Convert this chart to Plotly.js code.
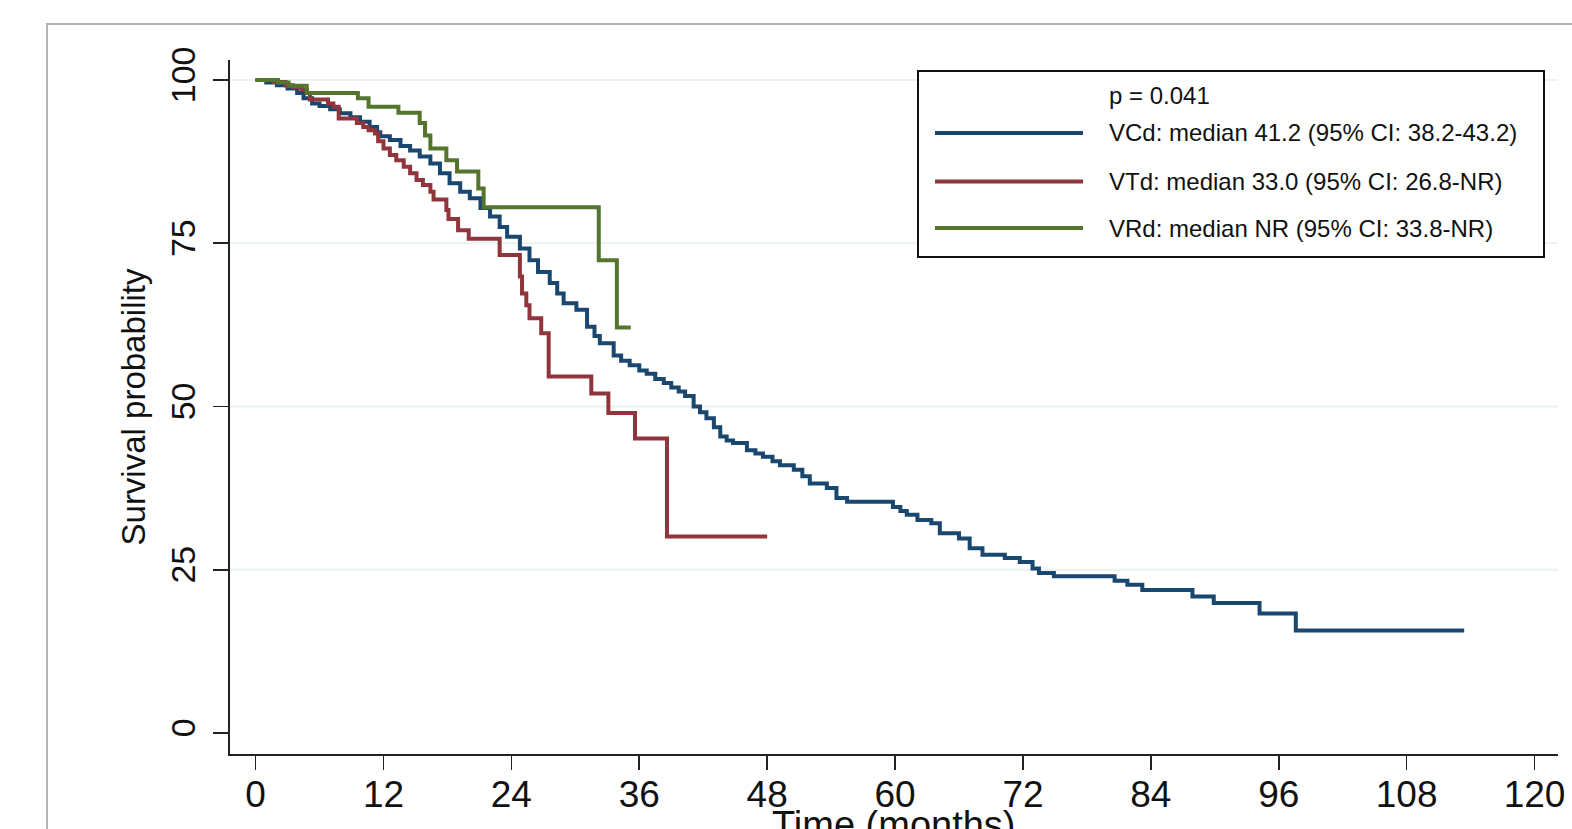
<!DOCTYPE html>
<html>
<head>
<meta charset="utf-8">
<script src="https://cdn.plot.ly/plotly-3.0.1.min.js"></script>
<style>
  html, body { margin: 0; padding: 0; background: #ffffff; }
  #chart { width: 1572px; height: 829px; }
</style>
</head>
<body>
<div id="chart"></div>
<script>
// ---------------- DATA ----------------
const xTicks = [0, 12, 24, 36, 48, 60, 72, 84, 96, 108, 120];
const yTicks = [0, 25, 50, 75, 100];
const gridVals = [25, 50, 75, 100];

const xTitle = "Time (months)";
const yTitle = "Survival probability";
const seriesNames = ["VCd", "VTd", "VRd"];
const pValueLabel = "p = 0.041";
const legendLabels = [
  "VCd: median 41.2 (95% CI: 38.2-43.2)",
  "VTd: median 33.0 (95% CI: 26.8-NR)",
  "VRd: median NR (95% CI: 33.8-NR)"
];

const vcdTime = [0,1.0,2.0,3.0,3.9,4.5,5.3,6.0,7.0,7.9,8.9,9.8,10.7,11.4,11.7,12.6,13.6,14.5,15.4,16.4,17.3,18.2,19.2,20.1,21.1,22.0,22.9,23.6,24.8,25.7,26.5,27.6,28.3,28.9,30.1,31.1,31.8,32.3,33.6,34.3,35.1,36.0,36.7,37.5,38.3,39.0,39.7,40.3,41.1,41.7,42.3,43.0,43.6,44.2,44.8,46.1,46.9,47.6,48.5,49.2,50.5,51.3,52.0,53.6,54.5,55.5,59.8,60.5,61.1,62.1,63.4,64.2,66.0,67.0,68.2,70.3,71.7,72.9,73.5,74.9,80.6,81.8,83.2,87.9,89.9,94.2,97.6,113.4];
const vcdSurv = [100,99.6,99.2,98.7,98.0,97.2,96.4,96.0,95.5,94.9,94.3,93.6,92.8,92.0,91.4,90.8,89.9,89.2,88.3,87.2,85.7,84.2,82.9,81.9,80.4,79.1,77.5,76.0,74.2,72.4,70.6,68.9,67.3,65.8,64.8,62.2,60.8,59.7,57.8,57.0,56.3,55.5,55.0,54.2,53.6,52.9,52.3,51.6,50.0,49.1,48.2,46.8,45.4,44.8,44.4,43.3,42.8,42.3,41.6,41.0,40.3,39.3,38.2,37.5,36.0,35.4,34.6,34.0,33.4,32.6,32.1,30.6,29.8,28.3,27.3,26.8,26.2,25.2,24.5,24.0,23.3,22.7,21.9,20.9,19.9,18.3,15.7,15.7];

const vtdTime = [0,1.7,2.8,3.5,4.3,4.8,5.1,6.8,7.3,7.8,9.5,10.1,10.6,11.2,11.5,12.0,12.6,13.2,13.9,14.5,15.1,15.7,16.4,16.7,17.9,18.1,19.0,20.0,22.9,24.8,25.0,25.4,25.7,26.8,27.5,31.5,33.1,35.6,38.6,48.0];
const vtdSurv = [100,99.7,99.2,98.9,98.5,98.0,97.0,96.4,95.9,94.1,93.4,92.8,92.3,91.8,90.6,89.5,88.5,87.7,86.7,85.7,84.7,83.9,82.9,81.7,80.1,78.7,77.0,75.7,73.2,69.9,67.3,65.5,63.5,61.2,54.6,52.0,49.0,45.1,30.1,30.1];

const vrdTime = [0,2.1,3.1,4.8,9.6,10.6,13.4,15.4,15.9,16.4,17.9,18.9,20.9,21.4,32.2,33.9,35.2];
const vrdSurv = [100,99.6,99.1,98.0,97.2,95.9,95.0,93.4,91.5,89.5,87.7,86.0,83.4,80.5,72.4,62.1,62.1];

// ---------------- STYLE ----------------
const colors = ["#1a476f", "#90353b", "#55752f"];
const FONT = "Liberation Sans, Arial, Helvetica, sans-serif";
const W = 1572, H = 829;
const M = { l: 230, r: 14, t: 60, b: 75 };
const PW = W - M.l - M.r, PH = H - M.t - M.b;
const px = x => (x - M.l) / PW;          // pixel -> paper x
const py = y => (H - M.b - y) / PH;      // pixel -> paper y

const series = [[vcdTime, vcdSurv], [vtdTime, vtdSurv], [vrdTime, vrdSurv]];
const traces = series.map((s, i) => ({
  type: "scatter",
  mode: "lines",
  x: s[0],
  y: s[1],
  name: seriesNames[i],
  line: { color: colors[i], width: 4, shape: "hv" },
  showlegend: false,
  hoverinfo: "skip"
}));

const shapes = [];
// light gridlines
gridVals.forEach(v => shapes.push({
  type: "line", xref: "paper", yref: "y", x0: 0, x1: 1, y0: v, y1: v,
  line: { color: "#eaf2f3", width: 2 }, layer: "below"
}));
// outer graph frame (extends beyond the visible area)
shapes.push({
  type: "rect", xref: "paper", yref: "paper",
  x0: px(47), x1: px(1700), y0: py(1000), y1: py(24),
  line: { color: "#b4b4b4", width: 2 }, fillcolor: "rgba(0,0,0,0)", layer: "below"
});
// legend box
shapes.push({
  type: "rect", xref: "paper", yref: "paper",
  x0: px(918), x1: px(1544), y0: py(257), y1: py(71),
  line: { color: "#111111", width: 2 }, fillcolor: "#ffffff", layer: "above"
});
const rowY = [133, 181.5, 228];
rowY.forEach((yy, i) => shapes.push({
  type: "line", xref: "paper", yref: "paper",
  x0: px(935), x1: px(1083), y0: py(yy), y1: py(yy),
  line: { color: colors[i], width: 4 }, layer: "above"
}));

const annotations = [];
annotations.push({
  xref: "paper", yref: "paper", x: px(1107), y: py(95), xanchor: "left", yanchor: "middle",
  text: pValueLabel, showarrow: false, font: { family: FONT, size: 24, color: "#111111" }
});
legendLabels.forEach((t, i) => annotations.push({
  xref: "paper", yref: "paper", x: px(1107), y: py(rowY[i]), xanchor: "left", yanchor: "middle",
  text: t, showarrow: false, font: { family: FONT, size: 24, color: "#111111" }
}));
// x-axis title (partly cut off by the bottom edge, as in the reference)
annotations.push({
  xref: "paper", yref: "paper", x: px(894), y: py(825), xanchor: "center", yanchor: "middle",
  text: xTitle, showarrow: false, font: { family: FONT, size: 38, color: "#111111" }
});

const layout = {
  width: W, height: H,
  margin: M,
  paper_bgcolor: "#ffffff",
  plot_bgcolor: "#ffffff",
  showlegend: false,
  font: { family: FONT, color: "#111111" },
  xaxis: {
    range: [-2.4, 122.2],
    tickvals: xTicks,
    ticktext: xTicks.map(String),
    ticks: "outside", ticklen: 14, tickwidth: 1.6, tickcolor: "#222222",
    ticklabelstandoff: -7,
    showline: true, linecolor: "#222222", linewidth: 1.6,
    showgrid: false, zeroline: false,
    tickfont: { family: FONT, size: 37, color: "#111111" },
    automargin: false, fixedrange: true
  },
  yaxis: {
    range: [-3.22, 103.06],
    tickvals: yTicks,
    ticktext: yTicks.map(String),
    tickangle: -90,
    ticks: "outside", ticklen: 15, tickwidth: 1.6, tickcolor: "#222222",
    ticklabelstandoff: 5,
    showline: true, linecolor: "#222222", linewidth: 1.6,
    showgrid: false, zeroline: false,
    tickfont: { family: FONT, size: 34, color: "#111111" },
    title: { text: yTitle, font: { family: FONT, size: 33, color: "#111111" }, standoff: 8 },
    automargin: false, fixedrange: true
  },
  shapes: shapes,
  annotations: annotations
};

Plotly.newPlot("chart", traces, layout, { displayModeBar: false, staticPlot: true });
</script>
</body>
</html>
